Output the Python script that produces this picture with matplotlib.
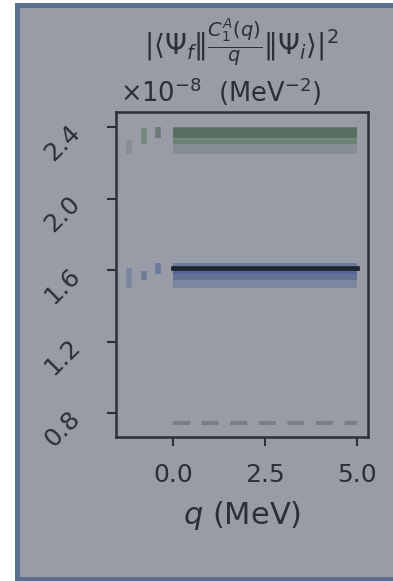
import numpy as np
import matplotlib.pyplot as plt
from matplotlib.patches import Rectangle
from matplotlib.transforms import ScaledTranslation

# values in units of 1e-8 MeV^-2
q_grid = [0.0, 5.0]
point_x = [-1.2, -0.8, -0.4]
green_lo = [2.249, 2.307, 2.339]
green_hi = [2.329, 2.394, 2.400]
blue_lo = [1.502, 1.544, 1.579]
blue_hi = [1.614, 1.594, 1.639]
central = 1.611
lower_ref = 0.747

green_cols = ['#798282', '#557654', '#3e5747']
blue_cols = ['#63729a', '#4b5f8c', '#44599a']

bg = '#979ca6'
ink = '#2a2f38'

fig = plt.figure(figsize=(3.93, 5.81), dpi=100, facecolor='white')
# outer panel with border
fig.add_artist(Rectangle((16.5/393, 2/581), 1.2, (581-4.5-2)/581, transform=fig.transFigure,
                         facecolor=bg, edgecolor='#5c6f8f', lw=3.6, zorder=-10))

ax = fig.add_axes([116/393, 1-437/581, (368-116)/393, (437-112)/581])
ax.patch.set_visible(False)

# bands and the per-method bars on the left
for lo, hi, c in zip(green_lo, green_hi, green_cols):
    ax.fill_between(q_grid, lo, hi, color=c, alpha=0.5, lw=0)
for lo, hi, c in zip(blue_lo, blue_hi, blue_cols):
    ax.fill_between(q_grid, lo, hi, color=c, alpha=0.5, lw=0)
ax.vlines(point_x, green_lo, green_hi, colors=green_cols, alpha=0.5, lw=4)
ax.vlines(point_x, blue_lo, blue_hi, colors=blue_cols, alpha=0.5, lw=4)

ax.plot(q_grid, [central, central], color='#1e232d', lw=3.4, solid_capstyle='projecting')
ax.plot(q_grid, [lower_ref, lower_ref], color='#787d88', lw=2.9, dashes=(4.2, 2.9))

ax.set_xlim(-1.549, 5.299)
ax.set_ylim(0.668, 2.484)
ax.set_xticks([0.0, 2.5, 5.0])
ax.set_yticks([0.8, 1.2, 1.6, 2.0, 2.4])
ax.set_xticklabels(['0.0', '2.5', '5.0'])
ax.set_yticklabels(['0.8', '1.2', '1.6', '2.0', '2.4'])

for s in ax.spines.values():
    s.set_color(ink)
    s.set_linewidth(1.8)
ax.tick_params(colors=ink, labelcolor=ink, labelsize=18, length=6.5, width=1.5)
ax.tick_params(axis='x', pad=12)
ax.tick_params(axis='y', pad=16)
plt.setp(ax.get_yticklabels(), rotation=45, ha='right', va='top')
up = ScaledTranslation(0, 5/72, fig.dpi_scale_trans)
for lab in ax.get_yticklabels():
    lab.set_transform(lab.get_transform() + up)

ax.set_xlabel(r'$q$ (MeV)', fontsize=22, color=ink, labelpad=9)

fig.text(241/393, 1-42/581, r'$|\langle\Psi_f\|\frac{C_1^A(q)}{q}\|\Psi_i\rangle|^2$',
         ha='center', va='center', fontsize=20, color=ink)
fig.text(120/393, 1-92/581, r'$\times10^{-8}$  (MeV$^{-2}$)',
         ha='left', va='center', fontsize=18.5, color=ink)

fig.savefig('out.png', dpi=100, facecolor='white')
